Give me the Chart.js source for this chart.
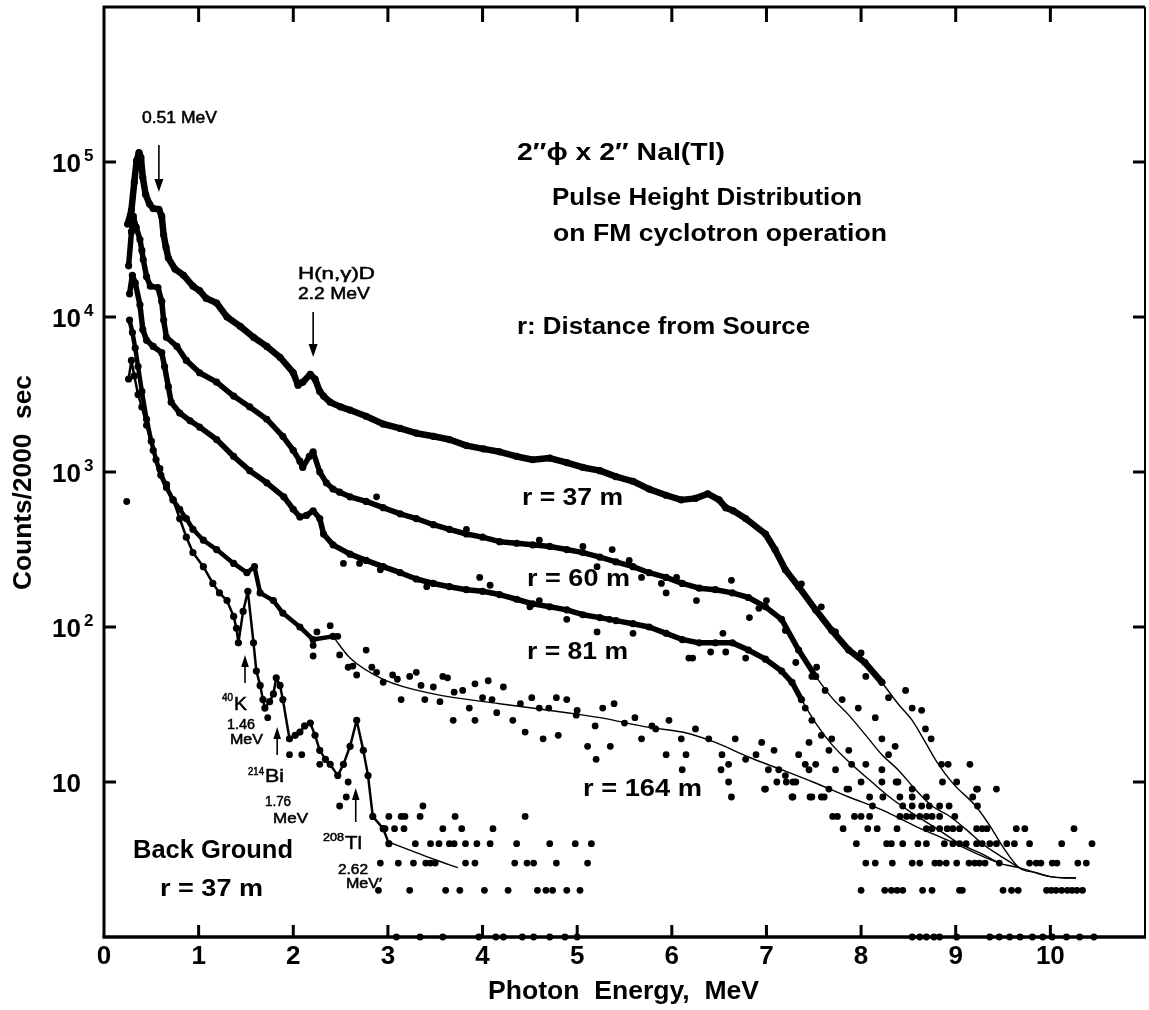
<!DOCTYPE html>
<html><head><meta charset="utf-8">
<script src="https://cdn.jsdelivr.net/npm/chart.js@4.4.1/dist/chart.umd.min.js"></script>
<style>html,body{margin:0;padding:0;background:#fff;}canvas{display:block;}</style>
</head><body>
<canvas id="c" width="1149" height="1010"></canvas>
<script>
// ---------- axes ----------
const energyTicks = [0,1,2,3,4,5,6,7,8,9,10];
const countTicks = [10,100,1000,10000,100000];
const countTickExp = ['', '2', '3', '4', '5'];
// energies (MeV) that the annotation arrows point at
const markE = {e511:0.58, hnd:2.21, k40:1.49, bi214:1.83, tl208:2.66};

// ---------- r = 37 m : [energy MeV, counts/2000 s] ----------
const r37Main = [[0.25,39800],[0.29,49000],[0.32,74100],[0.345,102000],[0.37,115000],[0.39,107000],[0.41,79400],[0.44,61700],[0.48,53700],[0.52,50100],[0.58,49500],[0.61,44700],[0.63,33900],[0.655,28200],[0.68,24000],[0.75,20400],[0.84,18600],[0.94,15800],[1.01,14800],[1.08,13200],[1.19,12300],[1.30,10000],[1.44,8700],[1.58,7400],[1.72,6460],[1.86,5500],[2.00,4370],[2.05,3630],[2.10,3800],[2.18,4270],[2.23,3980],[2.28,3310],[2.32,3090],[2.39,2820],[2.50,2630],[2.60,2510],[2.77,2290],[2.95,2040],[3.13,1910],[3.30,1780],[3.48,1700],[3.65,1620],[3.83,1480],[4.01,1410],[4.18,1350],[4.36,1260],[4.53,1200],[4.71,1230],[4.89,1150],[5.06,1070],[5.24,1020],[5.41,933],[5.59,871],[5.76,776],[5.94,708],[6.10,661],[6.25,676],[6.38,724],[6.50,661],[6.57,589],[6.65,562],[6.78,501],[6.99,398],[7.09,316],[7.20,234],[7.34,182],[7.52,129],[7.69,95],[7.87,71],[8.04,59],[8.22,44]];
const r37Fit = [[8.22,44],[8.39,32],[8.54,25],[8.68,18],[8.80,13.5],[8.97,9.8],[9.22,6.9],[9.39,4.9],[9.50,3.8],[9.67,2.8],[9.85,2.6],[10.0,2.45],[10.15,2.4],[10.27,2.4]];
const r37Tail = [[7.37,190],[7.58,135],[7.73,93],[8.00,68],[8.05,48],[8.29,35],[8.47,39],[8.54,30],[8.64,29],[8.68,22],[8.74,19],[8.85,13],[8.92,13],[9.01,10],[9.15,13],[9.22,9],[9.43,9],[9.18,8],[9.23,7],[9.23,9],
 [9.64,5],[9.73,5],[10.25,5],
 [9.54,4],[9.62,4],[9.78,4],[10.12,4],[10.44,4],
 [9.31,3],[9.46,3],[9.78,3],[9.85,3],[9.90,3],[10.02,3],[10.07,3],[10.29,3],[10.38,3],
 [9.50,2],[9.59,2],[9.66,2],[9.96,2],[10.01,2],[10.06,2],[10.12,2],[10.18,2],[10.23,2],[10.28,2],[10.34,2],
 [9.36,1],[9.46,1],[9.57,1],[9.68,1],[9.81,1],[9.92,1],[10.02,1],[10.17,1],[10.31,1],[10.46,1]];

// ---------- r = 60 m ----------
const r60Main = [[0.26,21400],[0.29,35500],[0.31,44700],[0.34,38000],[0.38,31600],[0.40,26900],[0.415,23400],[0.45,18200],[0.49,15800],[0.57,15500],[0.61,12600],[0.63,9550],[0.66,7400],[0.77,6460],[0.87,5250],[1.01,4370],[1.19,3800],[1.37,3090],[1.54,2630],[1.72,2190],[1.89,1700],[2.00,1380],[2.07,1175],[2.10,1070],[2.17,1260],[2.21,1350],[2.28,1000],[2.35,851],[2.42,776],[2.49,741],[2.60,692],[2.77,646],[2.95,589],[3.13,537],[3.30,501],[3.48,457],[3.65,427],[3.83,398],[4.00,380],[4.18,355],[4.36,347],[4.53,339],[4.71,331],[4.89,316],[5.06,302],[5.24,282],[5.41,263],[5.59,245],[5.76,224],[5.94,209],[6.11,191],[6.29,178],[6.46,174],[6.64,166],[6.81,155],[6.99,135],[7.16,112],[7.34,71],[7.52,48]];
const r60Fit = [[7.52,48],[7.69,35],[7.87,27],[8.05,20],[8.22,15],[8.39,12],[8.57,9],[8.75,7],[8.92,6.1],[9.10,5.0],[9.28,4.0],[9.45,3.4],[9.67,2.8]];
const r60Scatter = [[2.88,692],[3.83,427],[4.60,363],[5.06,331],[5.21,245],[5.37,316],[5.55,269],[5.68,209],[5.89,191],[5.94,166],[6.05,209],[6.26,148],[6.63,200],[6.82,115],[7.00,148],[6.92,132],[7.20,95],[7.31,59],[7.53,55],[7.48,48],[7.62,39],[7.80,34],[7.97,30],[8.15,26],[8.22,19],[8.36,17],[8.29,15]];
const r60Tail = [[8.37,10],[8.86,10],[8.54,9],[8.41,8],[8.54,8],[8.69,8],
 [8.44,7],[8.54,7],[8.64,7],[8.72,7],[8.83,7],[8.93,7],
 [8.41,6],[8.48,6],[8.54,6],[8.62,6],[8.69,6],[8.75,6],[8.83,6],[8.99,6],
 [8.83,5],[8.91,5],[8.97,5],[9.04,5],[9.22,5],[9.28,5],[9.33,5],
 [8.88,4],[8.97,4],[9.04,4],[9.11,4],[9.22,4],[9.28,4],[9.36,4],[9.43,4],
 [9.01,3],[9.14,3],[9.20,3],[9.25,3],
 [9.04,2],[9.07,2],
 [9.01,1]];

// ---------- r = 81 m ----------
const r81Main = [[0.27,14100],[0.30,18600],[0.33,16600],[0.38,12000],[0.41,8300],[0.45,7080],[0.52,6460],[0.61,5890],[0.64,4790],[0.68,3550],[0.71,2820],[0.80,2400],[0.91,2140],[1.01,1950],[1.19,1620],[1.37,1260],[1.54,1020],[1.72,851],[1.90,692],[2.00,575],[2.07,513],[2.14,525],[2.21,562],[2.28,501],[2.32,398],[2.42,339],[2.60,295],[2.77,269],[2.95,245],[3.13,224],[3.30,204],[3.48,191],[3.65,182],[3.83,174],[4.00,170],[4.18,162],[4.36,151],[4.53,141],[4.71,135],[4.89,129],[5.06,120],[5.24,115],[5.41,110],[5.59,105],[5.76,100],[5.94,91],[6.11,83],[6.29,79],[6.46,79],[6.64,79],[6.81,71],[6.99,62],[7.16,52],[7.27,44],[7.37,34]];
const r81Fit = [[7.37,34],[7.52,24],[7.69,17.5],[7.87,13.5],[8.09,10.3],[8.30,8.0],[8.54,6.3],[8.80,5.0],[9.04,4.0],[9.25,3.5],[9.46,3.0]];
const r81Scatter = [[2.53,257],[2.70,257],[2.92,234],[3.41,182],[3.97,209],[4.08,186],[4.50,135],[4.60,148],[4.89,112],[5.21,93],[5.34,112],[5.59,91],[6.18,63],[6.22,63],[6.41,69],[6.54,91],[6.57,69],[6.78,63],[7.41,30],[7.48,25],[7.58,20],[7.45,18],[7.69,19],[7.66,16],[7.87,16],[7.90,13],[8.05,13],[8.22,12],[8.22,10],[8.39,10]];
const r81Tail = [[8.00,10],[7.85,9],[8.09,8],[8.23,8],[8.12,7],[8.00,6],[8.09,6],
 [8.07,5],[8.17,5],[8.38,5],[8.69,5],[8.75,5],
 [8.27,4],[8.32,4],[8.44,4],[8.60,4],[8.69,4],
 [8.54,3],[8.62,3],[8.78,3],[8.83,3],[8.90,3],
 [8.65,2],[8.75,2],
 [8.77,1],[8.83,1]];

// ---------- r = 164 m ----------
const r164Main = [[0.27,9550],[0.30,7940],[0.33,6310],[0.36,4790],[0.40,3310],[0.45,2190],[0.50,1580],[0.55,1200],[0.60,955],[0.66,794],[0.73,661],[0.80,575],[0.87,501],[0.94,427],[1.05,363],[1.19,316],[1.37,257],[1.51,224],[1.59,245],[1.65,166],[1.79,148],[1.89,123],[2.07,100],[2.21,83],[2.42,87]];
const r164Fit = [[2.42,87],[2.60,63],[2.95,46],[3.48,37],[4.18,32],[4.89,28],[5.24,26],[5.76,22.5],[6.11,21],[6.46,18],[6.81,14.5],[7.16,12],[7.49,10],[7.87,8],[8.22,6.6],[8.57,5.2],[8.92,4.2],[9.46,3.0],[9.67,2.8],[10.0,2.45],[10.27,2.4]];
const r164Scatter = [[2.21,76],[2.25,93],[2.39,102],[2.47,87],[2.49,66],[2.21,65],[2.58,55],[2.63,56],[2.67,49],[2.77,71],[2.83,55],[2.88,51],[2.95,44],[3.05,49],[3.10,46],[3.14,34],[3.23,48],[3.30,51],[3.35,42],[3.39,34],[3.48,41],[3.55,33],[3.58,48],[3.63,47],[3.69,25],[3.70,38],[3.79,39],[3.86,30],[3.92,43],[3.92,25],[4.00,35],[4.06,45],[4.10,34],[4.15,28],[4.22,41],[4.32,25],[4.40,32],[4.45,21],[4.52,35],[4.60,30],[4.64,19],[4.70,30],[4.78,35],[4.80,20],[4.89,34],[4.99,27],[5.00,29],[5.11,17],[5.19,23],[5.20,14],[5.27,30],[5.35,17],[5.39,32],[5.50,24],[5.61,26],[5.68,19],[5.79,23],[5.83,22],[5.94,15],[5.97,25],[6.10,19],[6.11,12],[6.15,15],[6.25,22],[6.39,19],[6.52,12],[6.53,15],[6.60,13],[6.60,10],[6.63,8],[6.67,19],[6.78,14],[6.89,15],[6.95,18],[6.99,9],[7.02,12],[7.08,16],[7.13,12],[7.20,11],[7.27,8],[7.31,10],[7.34,15],[7.41,13],[7.45,12],[7.48,8],[7.52,13],[7.58,8],[7.66,9],[7.73,12],[7.87,9]];
const r164Tail = [[7.11,10],[7.21,10],[7.28,10],[6.98,9],[7.28,8],[7.46,8],[7.61,8],
 [7.70,6],[7.75,6],[7.93,6],[7.81,5],[7.95,4],
 [8.05,3],[8.15,3],[8.33,3],
 [8.00,2],[8.25,2],[8.32,2],[8.38,2],[8.44,2],
 [8.54,1],[8.62,1],[8.69,1]];

// ---------- Back Ground, r = 37 m ----------
const bgMain = [[0.26,3980],[0.29,5250],[0.32,4170],[0.36,3160],[0.40,2630],[0.45,2000],[0.52,1380],[0.59,1050],[0.66,832],[0.73,661],[0.80,501],[0.87,380],[0.94,302],[1.05,245],[1.15,191],[1.22,166],[1.30,148],[1.37,117],[1.40,98],[1.42,79],[1.47,126],[1.52,170],[1.58,79],[1.61,52],[1.65,42],[1.68,34],[1.70,30],[1.75,33],[1.79,37],[1.82,47],[1.86,42],[1.89,34],[1.96,19],[2.02,20],[2.07,21],[2.12,23],[2.18,24],[2.23,20],[2.28,16],[2.34,14],[2.39,13],[2.47,11],[2.53,13],[2.60,17],[2.67,25],[2.74,16],[2.79,11],[2.84,6],[2.95,5],[3.01,4]];
const bgFit = [[3.01,4.1],[3.30,3.5],[3.50,3.15],[3.74,2.8]];
const bgScatter = [[0.24,645],[1.73,26],[1.96,15],[2.09,15],[2.28,13],[2.49,7],[2.56,8],[2.58,10]];
const bgTail = [[3.37,7],
 [3.01,6],[3.14,6],[3.18,6],[3.34,6],[3.71,6],[4.45,6],
 [2.97,5],[3.07,5],[3.17,5],[3.58,5],[3.78,5],[4.11,5],
 [3.29,4],[3.45,4],[3.54,4],[3.65,4],[3.70,4],[3.82,4],[3.94,4],[4.08,4],[4.36,4],[4.71,4],[4.98,4],[5.15,4],
 [2.92,3],[3.11,3],[3.27,3],[3.40,3],[3.45,3],[3.50,3],[3.82,3],[3.92,3],[4.34,3],[4.47,3],[4.54,3],[4.78,3],[5.11,3],
 [2.90,2],[3.23,2],[3.61,2],[3.76,2],[4.02,2],[4.27,2],[4.58,2],[4.67,2],[4.74,2],[4.89,2],[5.03,2],
 [3.09,1],[3.34,1],[3.58,1],[3.96,1],[4.14,1],[4.22,1],[4.42,1],[4.54,1],[4.71,1],[4.87,1],[5.00,1]];

// ---------- datasets ----------
const K = '#000';
const toXY = a => a.map(p => ({x:p[0], y:p[1]}));
const dots = (label, d) => ({label, data:toXY(d), showLine:false, pointRadius:3.4, pointBackgroundColor:K, pointBorderWidth:0, clip:false});
const chain = (label, d, w) => ({label, data:toXY(d), showLine:true, borderColor:K, borderWidth:w, borderJoinStyle:'round', borderCapStyle:'round', pointRadius:3.6, pointBackgroundColor:K, pointBorderWidth:0, tension:0, clip:false});
const fit = (label, d) => ({label, data:toXY(d), showLine:true, borderColor:K, borderWidth:1.4, pointRadius:0, cubicInterpolationMode:'monotone', clip:false});

const datasets = [
  chain('r = 37 m', r37Main, 6.5), fit('r = 37 m fit', r37Fit), dots('r = 37 m tail', r37Tail),
  chain('r = 60 m', r60Main, 5.5), fit('r = 60 m fit', r60Fit), dots('r = 60 m scatter', r60Scatter), dots('r = 60 m tail', r60Tail),
  chain('r = 81 m', r81Main, 5.5), fit('r = 81 m fit', r81Fit), dots('r = 81 m scatter', r81Scatter), dots('r = 81 m tail', r81Tail),
  chain('r = 164 m', r164Main, 4.5), fit('r = 164 m fit', r164Fit), dots('r = 164 m scatter', r164Scatter), dots('r = 164 m tail', r164Tail),
  chain('Back Ground', bgMain, 2.5), fit('Back Ground fit', bgFit), dots('Back Ground scatter', bgScatter), dots('Back Ground tail', bgTail)
];

// ---------- drawing helpers ----------
const SANS = '"Liberation Sans", Arial, Helvetica, sans-serif';
function fitText(ctx, s, left, cy, width, size, weight){
  ctx.save();
  ctx.font = `${weight} ${size}px ${SANS}`;
  ctx.textAlign = 'left'; ctx.textBaseline = 'alphabetic';
  const w = ctx.measureText(s).width;
  ctx.translate(left, cy + 0.36*size);
  ctx.scale(width / w, 1);
  ctx.fillText(s, 0, 0);
  if (weight === 'normal') { ctx.lineWidth = 0.5; ctx.strokeText(s, 0, 0); }
  ctx.restore();
}
function arrow(ctx, x, yTail, yTip, hw, hl){
  const dir = Math.sign(yTip - yTail);
  ctx.lineWidth = 1.6;
  ctx.beginPath(); ctx.moveTo(x, yTail); ctx.lineTo(x, yTip - dir*hl*0.6); ctx.stroke();
  ctx.beginPath(); ctx.moveTo(x, yTip); ctx.lineTo(x - hw, yTip - dir*hl); ctx.lineTo(x + hw, yTip - dir*hl); ctx.closePath(); ctx.fill();
}

const decor = {
  id: 'decor',
  afterDraw(chart){
    const {ctx, chartArea:a, scales:{x, y}} = chart;
    ctx.save();
    ctx.strokeStyle = K; ctx.fillStyle = K;
    // frame
    ctx.lineWidth = 3;
    ctx.beginPath(); ctx.moveTo(a.left, a.bottom); ctx.lineTo(a.left, a.top); ctx.lineTo(a.right, a.top); ctx.stroke();
    ctx.lineWidth = 3.5;
    ctx.beginPath(); ctx.moveTo(a.left - 1.5, a.bottom); ctx.lineTo(a.right + 1, a.bottom); ctx.stroke();
    ctx.lineWidth = 2;
    ctx.beginPath(); ctx.moveTo(a.right, a.top); ctx.lineTo(a.right, a.bottom); ctx.stroke();
    // inward ticks
    ctx.lineWidth = 3;
    energyTicks.forEach(v => {
      if (v === 0) return;
      const px = x.getPixelForValue(v);
      ctx.beginPath(); ctx.moveTo(px, a.bottom); ctx.lineTo(px, a.bottom - 12); ctx.stroke();
      ctx.beginPath(); ctx.moveTo(px, a.top); ctx.lineTo(px, a.top + 15); ctx.stroke();
    });
    countTicks.forEach(v => {
      const py = y.getPixelForValue(v);
      ctx.beginPath(); ctx.moveTo(a.left, py); ctx.lineTo(a.left + 12, py); ctx.stroke();
      ctx.beginPath(); ctx.moveTo(a.right, py); ctx.lineTo(a.right - 12, py); ctx.stroke();
    });
    // tick labels
    ctx.textAlign = 'center'; ctx.textBaseline = 'alphabetic';
    ctx.font = `bold 26px ${SANS}`;
    energyTicks.forEach(v => {
      ctx.fillText(String(v), x.getPixelForValue(v), 955 + 0.36*26);
    });
    ctx.textAlign = 'left';
    countTicks.forEach((v, i) => {
      const py = y.getPixelForValue(v);
      ctx.font = `bold 26px ${SANS}`;
      ctx.fillText('10', 52, py + 1 + 0.36*26);
      if (countTickExp[i]) {
        ctx.font = `bold 17px ${SANS}`;
        ctx.fillText(countTickExp[i], 84, py - 7 + 0.36*17);
      }
    });
    // axis titles
    fitText(ctx, 'Photon  Energy,  MeV', 488, 990, 271, 26, 'bold');
    ctx.save();
    ctx.translate(22, 483); ctx.rotate(-Math.PI/2);
    fitText(ctx, 'Counts/2000  sec', -107, 0, 215, 25, 'bold');
    ctx.restore();
    // annotation texts
    fitText(ctx, '0.51 MeV', 142, 117, 75, 16, 'normal');
    fitText(ctx, 'H(n,γ)D', 298, 273, 77, 16, 'normal');
    fitText(ctx, '2.2 MeV', 298, 293, 72, 16, 'normal');
    fitText(ctx, '2″ϕ x 2″ NaI(Tl)', 517, 152, 208, 23, 'bold');
    fitText(ctx, 'Pulse Height Distribution', 552, 197, 310, 23, 'bold');
    fitText(ctx, 'on FM cyclotron operation', 553, 233, 334, 23, 'bold');
    fitText(ctx, 'r: Distance from Source', 517, 326, 293, 23, 'bold');
    fitText(ctx, 'r = 37 m', 522, 497, 101, 23, 'bold');
    fitText(ctx, 'r = 60 m', 527, 578, 103, 23, 'bold');
    fitText(ctx, 'r = 81 m', 527, 651, 101, 23, 'bold');
    fitText(ctx, 'r = 164 m', 583, 788, 119, 23, 'bold');
    fitText(ctx, 'Back Ground', 133, 849, 160, 25, 'bold');
    fitText(ctx, 'r = 37 m', 160, 887, 103, 24, 'bold');
    // isotopes
    fitText(ctx, '40', 222, 697, 11, 11, 'normal');
    fitText(ctx, 'K', 234, 704, 13, 18, 'normal');
    fitText(ctx, '1.46', 227, 724, 28, 14, 'normal');
    fitText(ctx, 'MeV', 230, 739, 33, 14, 'normal');
    fitText(ctx, '214', 248, 771, 16, 11, 'normal');
    fitText(ctx, 'Bi', 265, 776, 19, 18, 'normal');
    fitText(ctx, '1.76', 265, 801, 26, 14, 'normal');
    fitText(ctx, 'MeV', 273, 818, 35, 14, 'normal');
    fitText(ctx, '208', 323, 837, 21, 11, 'normal');
    fitText(ctx, 'Tl', 345, 843, 17, 18, 'normal');
    fitText(ctx, '2.62', 338, 869, 30, 14, 'normal');
    fitText(ctx, 'MeV′', 346, 883, 36, 14, 'normal');
    // arrows
    arrow(ctx, x.getPixelForValue(markE.e511), 145, 192, 4.5, 13);
    arrow(ctx, x.getPixelForValue(markE.hnd), 312, 357, 4.5, 13);
    arrow(ctx, x.getPixelForValue(markE.k40), 683, 655, 3.8, 12);
    arrow(ctx, x.getPixelForValue(markE.bi214), 755, 727, 3.8, 12);
    arrow(ctx, x.getPixelForValue(markE.tl208), 822, 788, 3.8, 12);
    ctx.restore();
  }
};

new Chart(document.getElementById('c'), {
  type: 'scatter',
  data: { datasets },
  options: {
    responsive: false, animation: false, devicePixelRatio: 1,
    layout: { padding: { left: 0, right: 3, top: 7, bottom: 0 } },
    plugins: { legend: { display: false }, tooltip: { enabled: false } },
    scales: {
      x: { type: 'linear', min: 0, max: 11,
           ticks: { display: false }, grid: { display: false }, border: { display: false },
           afterFit(s){ s.height = 73; } },
      y: { type: 'logarithmic', min: 1, max: 1000000,
           ticks: { display: false }, grid: { display: false }, border: { display: false },
           afterFit(s){ s.width = 104; } }
    }
  },
  plugins: [decor]
});
</script>
</body></html>
